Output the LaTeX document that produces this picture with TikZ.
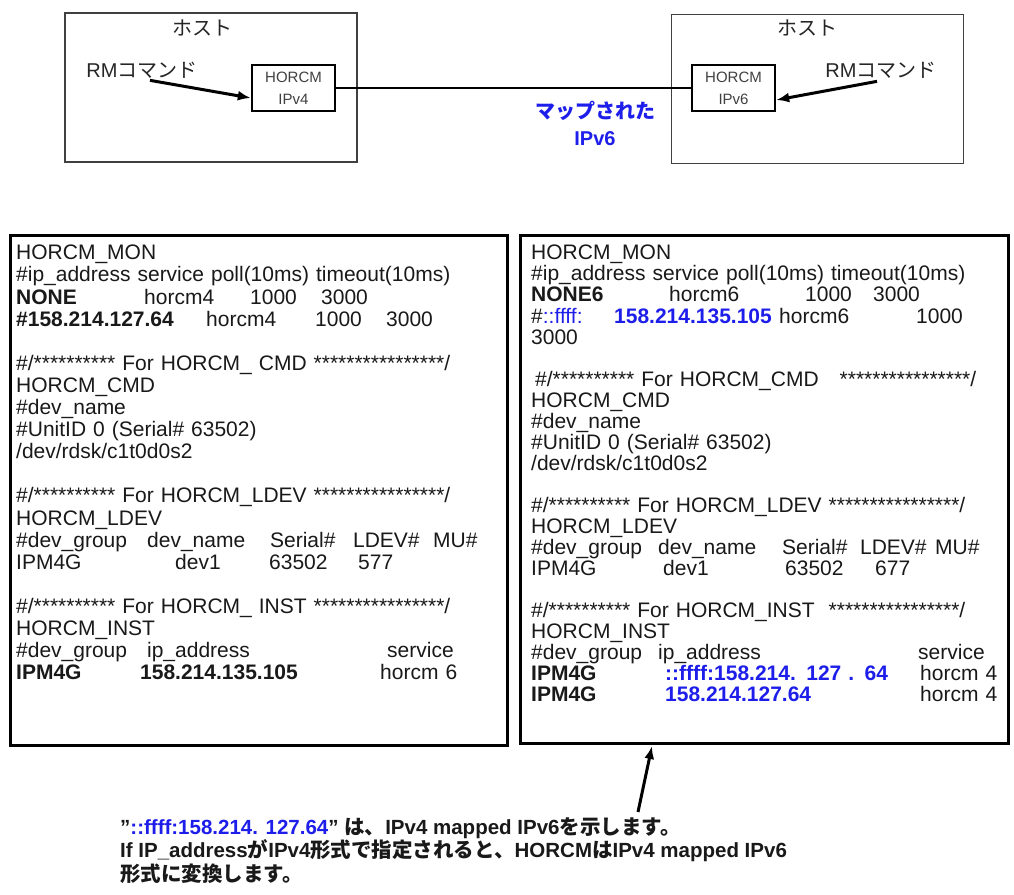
\documentclass[tikz,border=0pt]{standalone}
\usepackage{fontspec}
\setmainfont{Liberation Sans}
\newfontfamily\jp{Noto Sans CJK JP}
\usepackage{xcolor}
\usetikzlibrary{arrows.meta,positioning,calc}

\definecolor{mapblue}{RGB}{30,30,235}
\newcommand\colat[2]{\makebox[0pt][l]{\hspace*{#1pt}#2}}

\begin{document}
\begin{tikzpicture}[x=1pt,y=1pt,
  >={Latex[length=13pt,width=10pt]},
  host/.style={draw=black!75, line width=1.6pt, minimum width=292pt, minimum height=149pt, inner sep=0pt},
  horcm/.style={draw, line width=2.4pt, minimum width=83pt, minimum height=46pt, align=center, inner sep=0pt, font=\fontsize{15}{22}\selectfont, text=black!75},
  hosttext/.style={font=\fontsize{20}{24}\selectfont, inner sep=0pt, text=black!85},
  mapped/.style={font=\bfseries\fontsize{20}{27}\selectfont, inner sep=0pt, align=center, text=mapblue},
  cfg/.style={draw, line width=3pt, minimum width=497pt, minimum height=510pt, inner sep=0pt},
  cfgtext/.style={anchor=north west, align=left, inner sep=0pt, text width=480pt, font=\fontsize{21}{22.1}\selectfont, text=black!90},
  note/.style={anchor=north west, align=left, inner sep=0pt, font=\bfseries\fontsize{20.5}{23.5}\selectfont, text=black!90},
  arrowline/.style={->, line width=3pt},
  link/.style={line width=2pt}
]
\fill[white] (0,0) rectangle (1014,-894);

% hosts
\node[host] (hostL) at (211,-87.5) {};
\node[host] (hostR) at (817.5,-89) {};
\node[hosttext] (titleL) at (202,-28) {\jp ホスト};
\node[hosttext] (titleR) at (807,-28) {\jp ホスト};
\node[horcm] (hv4) at (293.5,-88) {HORCM\\IPv4};
\node[horcm] (hv6) at (733.5,-88) {HORCM\\IPv6};
\node[hosttext] (rmL) at (142,-70) {RM{\jp コマンド}};
\node[hosttext] (rmR) at (881,-70) {RM{\jp コマンド}};
\draw[arrowline] ([xshift=8pt,yshift=-2pt]rmL.south) -- ([yshift=-10pt]hv4.west);
\draw[arrowline] ([xshift=-4pt,yshift=-3pt]rmR.south) -- ([yshift=-12pt]hv6.east);
\draw[link] (hv4) -- (hv6);
\node[mapped] (maplabel) at (595,-123) {{\jp マップされた}\\IPv6};

% horcm files
\node[cfg] (cfgL) at (258.5,-490) {};
\node[cfg, minimum width=488pt, minimum height=508pt] (cfgR) at (764,-489) {};

\node[cfgtext] (txtL) at (16,-245) {%
HORCM\_MON\\
\#ip\_address service poll(10ms) timeout(10ms)\\
\colat{0}{\bfseries NONE}\colat{128}{horcm4}\colat{234}{1000}\colat{305}{3000}\\
\colat{0}{\bfseries \#158.214.127.64}\colat{190}{horcm4}\colat{299}{1000}\colat{370}{3000}\\
~\\
\#/********** For HORCM\_ CMD ****************/\\
HORCM\_CMD\\
\#dev\_name\\
\#UnitID 0 (Serial\# 63502)\\
/dev/rdsk/c1t0d0s2\\
~\\
\#/********** For HORCM\_LDEV ****************/\\
HORCM\_LDEV\\
\colat{0}{\#dev\_group}\colat{131}{dev\_name}\colat{254}{Serial\#}\colat{337}{LDEV\#}\colat{417}{MU\#}\\
\colat{0}{IPM4G}\colat{159}{dev1}\colat{253}{63502}\colat{342}{577}\\
~\\
\#/********** For HORCM\_ INST ****************/\\
HORCM\_INST\\
\colat{0}{\#dev\_group}\colat{131}{ip\_address}\colat{371}{service}\\
\colat{0}{\bfseries IPM4G}\colat{124}{\bfseries 158.214.135.105}\colat{364}{horcm 6}};

\node[cfgtext, font=\fontsize{21}{21.05}\selectfont] (txtR) at (531,-245) {%
HORCM\_MON\\
\#ip\_address service poll(10ms) timeout(10ms)\\
\colat{0}{\bfseries NONE6}\colat{138}{horcm6}\colat{274}{1000}\colat{342}{3000}\\
\colat{0}{\#\textcolor{mapblue}{::ffff:}}\colat{83}{\bfseries\color{mapblue}158.214.135.105}\colat{248}{horcm6}\colat{385}{1000}\\
3000\\
~\\
\colat{4}{\#/********** For HORCM\_CMD \ \ ****************/}\\
HORCM\_CMD\\
\#dev\_name\\
\#UnitID 0 (Serial\# 63502)\\
/dev/rdsk/c1t0d0s2\\
~\\
\#/********** For HORCM\_LDEV ****************/\\
HORCM\_LDEV\\
\colat{0}{\#dev\_group}\colat{127}{dev\_name}\colat{251}{Serial\#}\colat{329}{LDEV\#}\colat{404}{MU\#}\\
\colat{0}{IPM4G}\colat{132}{dev1}\colat{254}{63502}\colat{344}{677}\\
~\\
\#/********** For HORCM\_INST \ ****************/\\
HORCM\_INST\\
\colat{0}{\#dev\_group}\colat{127}{ip\_address}\colat{387}{service}\\
\colat{0}{\bfseries IPM4G}\colat{134}{\bfseries\color{mapblue}::ffff:158.214. 127 . 64}\colat{389}{horcm 4}\\
\colat{0}{\bfseries IPM4G}\colat{134}{\bfseries\color{mapblue}158.214.127.64}\colat{389}{horcm 4}};

% note
\node[note] (note) at (120,-817) {%
\symbol{34}{\color{mapblue}::ffff:158.214. 127.64}\symbol{34} {\jp は、}IPv4 mapped IPv6{\jp を示します。}\\
If IP\_address{\jp が}IPv4{\jp 形式で指定されると、}HORCM{\jp は}IPv4 mapped IPv6\\
{\jp 形式に変換します。}};
\draw[arrowline] ([xshift=518pt,yshift=5pt]note.north west) -- ([xshift=-112pt,yshift=-1.5pt]cfgR.south);
\end{tikzpicture}
\end{document}
